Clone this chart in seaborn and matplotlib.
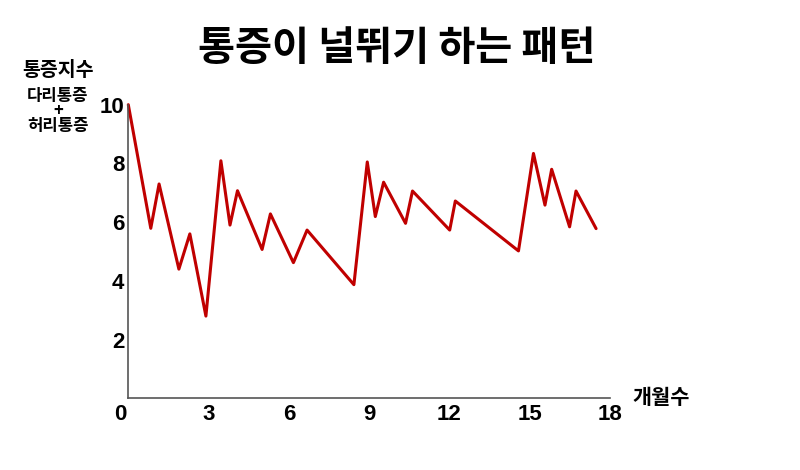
import numpy as np
import pandas as pd
import seaborn as sns
import matplotlib.pyplot as plt
import matplotlib.transforms as mtransforms

sns.set_style("white")
plt.rcParams['font.family'] = ['Liberation Sans', 'Noto Sans CJK KR', 'DejaVu Sans']
plt.rcParams['text.color'] = 'black'

# 개월수 / 통증지수
months = [0, 0.84, 1.15, 1.89, 2.30, 2.90, 3.46, 3.80, 4.08, 5.00, 5.31, 6.17, 6.68,
          8.43, 8.93, 9.23, 9.54, 10.36, 10.62, 12.01, 12.22, 14.58, 15.14, 15.57,
          15.82, 16.49, 16.73, 17.48]
pain = [10, 5.79, 7.30, 4.40, 5.60, 2.80, 8.09, 5.90, 7.07, 5.07, 6.28, 4.62, 5.73,
        3.87, 8.05, 6.19, 7.36, 5.96, 7.06, 5.73, 6.72, 5.02, 8.34, 6.58,
        7.80, 5.84, 7.06, 5.78]
xticks = [0, 3, 6, 9, 12, 15, 18]
yticks = [2, 4, 6, 8, 10]

df = pd.DataFrame({'months': months, 'pain': pain})

fig = plt.figure(figsize=(8, 4.7), dpi=100)
ax = fig.add_axes([128.3 / 800, 71.7 / 470, 481.7 / 800, 293.6 / 470])

sns.lineplot(data=df, x='months', y='pain', ax=ax, color='#c00000', linewidth=2.2,
             clip_on=False)

ax.set_xlim(0, 18)
ax.set_ylim(0, 10)
ax.set_xticks(xticks)
ax.set_yticks(yticks)
ax.set_xlabel('')
ax.set_ylabel('')
sns.despine(ax=ax)
for s in ['left', 'bottom']:
    ax.spines[s].set_color('#555555')
    ax.spines[s].set_linewidth(1.2)
ax.tick_params(axis='both', direction='in', length=5, width=1, color='#555555',
               labelsize=16, labelcolor='black')
ax.tick_params(axis='x', pad=4)
ax.tick_params(axis='y', pad=3)
for lab in ax.get_xticklabels() + ax.get_yticklabels():
    lab.set_fontweight('bold')
# the 0 sits a little left of the origin in the original
zero = ax.get_xticklabels()[0]
zero.set_transform(zero.get_transform() + mtransforms.ScaledTranslation(-8 / 100, 0, fig.dpi_scale_trans))

kfont = ['Noto Sans CJK KR', 'DejaVu Sans']
fig.text(397 / 800, 1 - 48 / 470, '통증이 널뛰기 하는 패턴', ha='center', va='center',
         fontsize=29, fontweight='bold', family=kfont, color='black')
fig.text(58 / 800, 1 - 70 / 470, '통증지수', ha='center', va='center',
         fontsize=14, fontweight='bold', family=kfont, color='black')
fig.text(58 / 800, 1 - 111 / 470, '다리통증\n+\n허리통증', ha='center', va='center',
         fontsize=12, fontweight='bold', family=kfont, linespacing=0.8, color='black')
fig.text(632 / 800, 1 - 397 / 470, '개월수', ha='left', va='center',
         fontsize=15, fontweight='bold', family=kfont, color='black')

fig.savefig('out.png', dpi=100)
